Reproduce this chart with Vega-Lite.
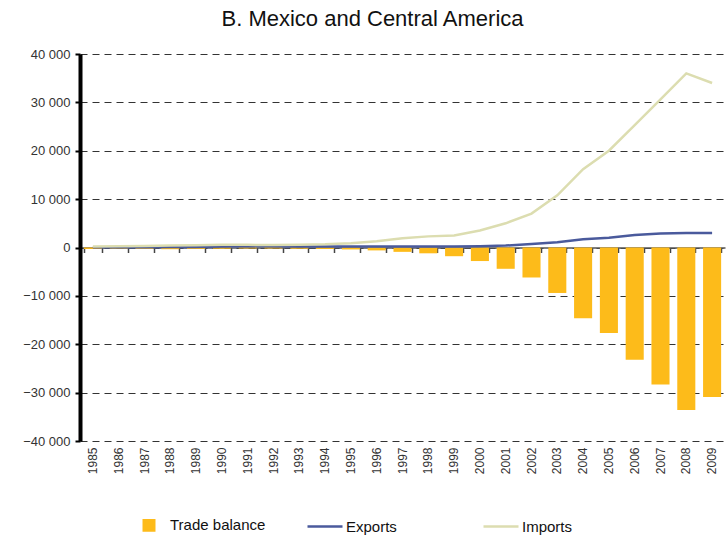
{
  "$schema": "https://vega.github.io/schema/vega-lite/v6.json",
  "width": 645,
  "height": 387,
  "autosize": {"type": "none"},
  "padding": {"left": 80, "top": 54, "right": 2, "bottom": 96},
  "background": "white",
  "title": {"text": "B. Mexico and Central America", "fontSize": 22, "font": "Liberation Sans", "fontWeight": "normal", "color": "#111", "anchor": "middle", "dx": -30, "offset": 17},
  "config": {"view": {"stroke": null}, "font": "Liberation Sans"},
  "data": {"values": [
    {"year": "1985", "series": "Trade balance", "value": -300},
    {"year": "1986", "series": "Trade balance", "value": -250},
    {"year": "1987", "series": "Trade balance", "value": -300},
    {"year": "1988", "series": "Trade balance", "value": -350},
    {"year": "1989", "series": "Trade balance", "value": -300},
    {"year": "1990", "series": "Trade balance", "value": -250},
    {"year": "1991", "series": "Trade balance", "value": -200},
    {"year": "1992", "series": "Trade balance", "value": -200},
    {"year": "1993", "series": "Trade balance", "value": -250},
    {"year": "1994", "series": "Trade balance", "value": -300},
    {"year": "1995", "series": "Trade balance", "value": -400},
    {"year": "1996", "series": "Trade balance", "value": -600},
    {"year": "1997", "series": "Trade balance", "value": -900},
    {"year": "1998", "series": "Trade balance", "value": -1200},
    {"year": "1999", "series": "Trade balance", "value": -1800},
    {"year": "2000", "series": "Trade balance", "value": -2800},
    {"year": "2001", "series": "Trade balance", "value": -4400},
    {"year": "2002", "series": "Trade balance", "value": -6200},
    {"year": "2003", "series": "Trade balance", "value": -9400},
    {"year": "2004", "series": "Trade balance", "value": -14600},
    {"year": "2005", "series": "Trade balance", "value": -17700},
    {"year": "2006", "series": "Trade balance", "value": -23200},
    {"year": "2007", "series": "Trade balance", "value": -28300},
    {"year": "2008", "series": "Trade balance", "value": -33600},
    {"year": "2009", "series": "Trade balance", "value": -30900},
    {"year": "1985", "series": "Exports", "value": 50},
    {"year": "1986", "series": "Exports", "value": 60},
    {"year": "1987", "series": "Exports", "value": 60},
    {"year": "1988", "series": "Exports", "value": 80},
    {"year": "1989", "series": "Exports", "value": 100},
    {"year": "1990", "series": "Exports", "value": 200},
    {"year": "1991", "series": "Exports", "value": 300},
    {"year": "1992", "series": "Exports", "value": 250},
    {"year": "1993", "series": "Exports", "value": 200},
    {"year": "1994", "series": "Exports", "value": 200},
    {"year": "1995", "series": "Exports", "value": 200},
    {"year": "1996", "series": "Exports", "value": 200},
    {"year": "1997", "series": "Exports", "value": 200},
    {"year": "1998", "series": "Exports", "value": 200},
    {"year": "1999", "series": "Exports", "value": 200},
    {"year": "2000", "series": "Exports", "value": 250},
    {"year": "2001", "series": "Exports", "value": 400},
    {"year": "2002", "series": "Exports", "value": 700},
    {"year": "2003", "series": "Exports", "value": 1100},
    {"year": "2004", "series": "Exports", "value": 1700},
    {"year": "2005", "series": "Exports", "value": 2000},
    {"year": "2006", "series": "Exports", "value": 2600},
    {"year": "2007", "series": "Exports", "value": 2900},
    {"year": "2008", "series": "Exports", "value": 3000},
    {"year": "2009", "series": "Exports", "value": 3000},
    {"year": "1985", "series": "Imports", "value": 200},
    {"year": "1986", "series": "Imports", "value": 250},
    {"year": "1987", "series": "Imports", "value": 300},
    {"year": "1988", "series": "Imports", "value": 400},
    {"year": "1989", "series": "Imports", "value": 450},
    {"year": "1990", "series": "Imports", "value": 550},
    {"year": "1991", "series": "Imports", "value": 550},
    {"year": "1992", "series": "Imports", "value": 500},
    {"year": "1993", "series": "Imports", "value": 550},
    {"year": "1994", "series": "Imports", "value": 650},
    {"year": "1995", "series": "Imports", "value": 900},
    {"year": "1996", "series": "Imports", "value": 1300},
    {"year": "1997", "series": "Imports", "value": 1900},
    {"year": "1998", "series": "Imports", "value": 2300},
    {"year": "1999", "series": "Imports", "value": 2500},
    {"year": "2000", "series": "Imports", "value": 3500},
    {"year": "2001", "series": "Imports", "value": 5000},
    {"year": "2002", "series": "Imports", "value": 7000},
    {"year": "2003", "series": "Imports", "value": 10800},
    {"year": "2004", "series": "Imports", "value": 16200},
    {"year": "2005", "series": "Imports", "value": 20000},
    {"year": "2006", "series": "Imports", "value": 25300},
    {"year": "2007", "series": "Imports", "value": 30600},
    {"year": "2008", "series": "Imports", "value": 36000},
    {"year": "2009", "series": "Imports", "value": 34000}
  ]},
  "resolve": {"axis": {"x": "independent"}},
  "layer": [
    {
      "transform": [{"filter": "datum.series === 'Trade balance'"}],
      "mark": {"type": "bar"},
      "encoding": {
        "x": {"field": "year", "type": "ordinal", "scale": {"paddingInner": 0.3, "paddingOuter": 0.15},
          "axis": {"title": null, "orient": "bottom", "labelAngle": 270, "labelFontSize": 12, "labelColor": "#333", "domain": false, "ticks": false, "labelPadding": 6, "grid": false}},
        "y": {"field": "value", "type": "quantitative", "scale": {"domain": [-40000, 40000], "nice": false},
          "axis": {"title": null, "values": [-40000, -30000, -20000, -10000, 0, 10000, 20000, 30000, 40000],
            "labelExpr": "replace(format(datum.value, ','), /,/g, ' ')", "labelFontSize": 13, "labelColor": "#333",
            "domainColor": "#000", "domainWidth": 4, "tickColor": "#000", "tickWidth": 2, "tickSize": 5, "labelPadding": 5,
            "grid": true, "gridColor": "#333", "gridDash": [7, 5], "gridWidth": 1}},
        "color": {"field": "series", "type": "nominal",
          "scale": {"domain": ["Trade balance", "Exports", "Imports"], "range": ["#FDBB1A", "#4A5A9C", "#DCDDB0"]},
          "legend": {"orient": "none", "legendX": 50, "legendY": 452, "direction": "horizontal", "title": null,
            "labelFontSize": 15, "labelColor": "#111", "symbolSize": 1225, "gridAlign": "all", "columnPadding": 36, "labelOffset": 2,
            "symbolType": "stroke", "symbolStrokeWidth": 2.5,
            "encode": {"symbols": {"update": {
              "shape": {"signal": "datum.value === 'Trade balance' ? 'square' : 'stroke'"},
              "size": {"signal": "datum.value === 'Trade balance' ? 110 : 1225"},
              "fill": {"signal": "datum.value === 'Trade balance' ? '#FDBB1A' : 'transparent'"},
              "stroke": {"signal": "datum.value === 'Trade balance' ? 'transparent' : (datum.value === 'Exports' ? '#4A5A9C' : '#DCDDB0')"}
            }}}}
        }
      }
    },
    {
      "transform": [{"filter": "datum.series !== 'Trade balance'"}],
      "mark": {"type": "line", "strokeWidth": 2.5},
      "encoding": {
        "x": {"field": "year", "type": "ordinal",
          "axis": {"title": null, "orient": "top", "offset": -193.5, "labels": false, "domain": true, "domainColor": "#555", "domainWidth": 1.5, "ticks": true, "tickBand": "extent", "tickSize": -5, "tickColor": "#444", "tickWidth": 1.5, "grid": false}},
        "y": {"field": "value", "type": "quantitative"},
        "color": {"field": "series", "type": "nominal"}
      }
    }
  ]
}
